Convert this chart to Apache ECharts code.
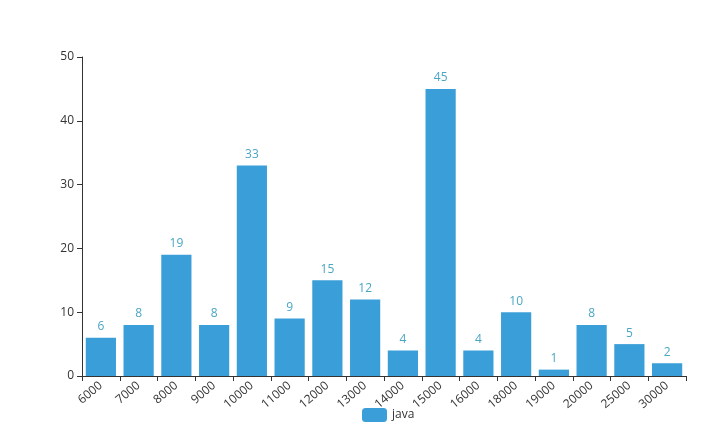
<!DOCTYPE html>
<html><head><meta charset="utf-8">
<script src="https://cdn.jsdelivr.net/npm/echarts@6/dist/echarts.min.js"></script>
<style>html,body{margin:0;padding:0;background:#fff}#c{width:720px;height:429px}</style>
</head><body><div id="c"></div>
<script>
var categories = ['6000','7000','8000','9000','10000','11000','12000','13000','14000','15000','16000','18000','19000','20000','25000','30000'];
var javaValues = [6,8,19,8,33,9,15,12,4,45,4,10,1,8,5,2];
var chart = echarts.init(document.getElementById('c'));
chart.setOption({
  animation: false,
  textStyle: {fontFamily: 'Open Sans'},
  grid: {left: 82, right: 34, top: 57, bottom: 53},
  legend: {bottom: 2, left: 357, data: ['java'], itemWidth: 25, itemHeight: 14, textStyle: {color: '#333', fontSize: 12}},
  xAxis: {
    type: 'category', data: categories,
    axisLine: {lineStyle: {color: '#333'}},
    axisTick: {show: true, alignWithLabel: false, lineStyle: {color: '#333'}},
    axisLabel: {rotate: 40, interval: 0, color: '#333', fontSize: 12, margin: 8}
  },
  yAxis: {
    type: 'value', min: 0, max: 50, interval: 10,
    axisLine: {show: true, lineStyle: {color: '#333'}},
    axisTick: {show: true, lineStyle: {color: '#333'}},
    splitLine: {show: false},
    axisLabel: {color: '#333', fontSize: 12}
  },
  series: [{
    name: 'java', type: 'bar', data: javaValues, barCategoryGap: '20%',
    itemStyle: {color: '#3a9fd8'},
    label: {show: true, position: 'top', color: '#4aa6c4', fontSize: 12}
  }]
});
</script></body></html>
